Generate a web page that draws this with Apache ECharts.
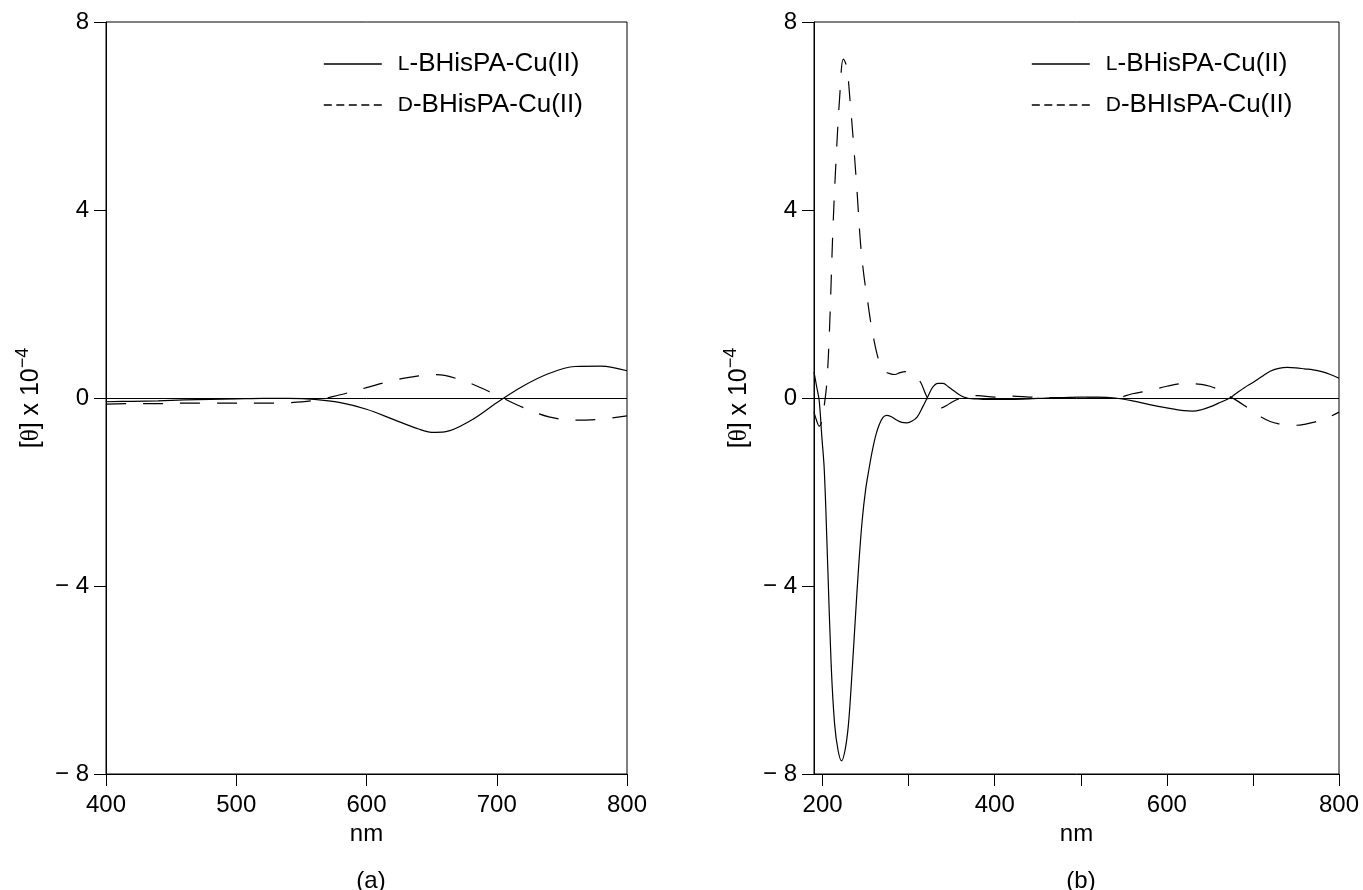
<!DOCTYPE html>
<html>
<head>
<meta charset="utf-8">
<script src="https://cdn.jsdelivr.net/npm/echarts@6/dist/echarts.min.js"></script>
<style>
html,body{margin:0;padding:0;background:#fff;}
#chart{width:1363px;height:890px;}
</style>
</head>
<body>
<div id="chart"></div>
<script>
// ---------- data ----------
const nameL = 'L-BHisPA-Cu(II)';
const nameDa = 'D-BHisPA-Cu(II)';
const nameDb = 'D-BHIsPA-Cu(II)';

// panel (a)
const nmA = [400,420,440,460,480,500,520,540,560,580,600,620,640,650,660,680,700,720,740,760,780,800];
const lA  = [-0.08,-0.07,-0.06,-0.04,-0.03,-0.02,-0.01,-0.01,-0.03,-0.10,-0.24,-0.45,-0.66,-0.73,-0.72,-0.48,-0.10,0.25,0.52,0.67,0.68,0.58];
const dA  = [-0.13,-0.12,-0.12,-0.11,-0.11,-0.11,-0.11,-0.10,-0.05,0.07,0.22,0.37,0.47,0.50,0.48,0.31,0.06,-0.20,-0.40,-0.47,-0.45,-0.38];

// panel (b)
const nmBL = [190,193,196,199,202,206,210,214,218,222,226,230,234,238,242,246,250,254,258,262,266,270,274,280,286,292,298,304,310,316,322,328,334,340,346,352,358,364,370,380,390,400,420,440,460,480,500,520,540,560,580,600,620,630,640,650,660,673,680,690,700,710,720,730,740,750,760,770,780,790,800];
const lB   = [0.55,0.25,-0.05,-0.8,-1.55,-3.6,-5.7,-6.95,-7.5,-7.72,-7.5,-6.95,-5.9,-4.7,-3.55,-2.6,-1.95,-1.5,-1.1,-0.78,-0.56,-0.42,-0.37,-0.40,-0.47,-0.52,-0.53,-0.49,-0.40,-0.20,0.02,0.23,0.31,0.31,0.24,0.16,0.08,0.02,-0.01,-0.02,-0.03,-0.03,-0.03,-0.02,0.0,0.01,0.02,0.02,0.0,-0.06,-0.14,-0.21,-0.27,-0.28,-0.25,-0.19,-0.11,0.0,0.09,0.22,0.33,0.45,0.57,0.63,0.65,0.64,0.62,0.60,0.56,0.50,0.42];
const nmBD = [190,193,196,199,202,205,208,212,216,220,224,228,232,236,240,244,248,252,256,260,264,268,272,278,284,290,296,302,308,314,320,326,332,338,344,350,358,366,380,400,420,440,460,480,500,520,540,560,580,600,620,640,650,660,670,680,690,700,710,720,730,740,750,760,770,780,790,800];
const dB   = [-0.30,-0.48,-0.60,-0.50,-0.15,0.35,1.45,3.6,5.2,6.45,7.21,7.05,6.3,5.4,4.4,3.3,2.6,2.1,1.6,1.2,0.88,0.68,0.57,0.52,0.50,0.54,0.56,0.53,0.46,0.33,0.07,-0.12,-0.21,-0.21,-0.16,-0.09,-0.02,0.02,0.05,0.02,0.04,0.02,0.01,0.01,0.0,0.0,0.0,0.09,0.16,0.25,0.31,0.29,0.25,0.18,0.07,-0.04,-0.16,-0.29,-0.41,-0.50,-0.55,-0.57,-0.58,-0.56,-0.52,-0.46,-0.39,-0.30];

const xTicksA = [400,500,600,700,800];
const xTicksB = [200,300,400,500,600,700,800];
const xLabelsB = [200,400,600,800];

// ---------- chart ----------
const FONT = "'Liberation Sans', Arial, Helvetica, sans-serif";
const pair = (xs, ys) => xs.map((x, i) => [x, ys[i]]);

function yAxisFor(gi) {
  return {
    type: 'value', gridIndex: gi, min: -8, max: 8, interval: 4,
    axisLine: { show: true, lineStyle: { color: '#000', width: 1 } },
    axisTick: { show: true, length: 12, lineStyle: { color: '#000', width: 1 } },
    axisLabel: {
      margin: 17, color: '#000', fontSize: 24, fontFamily: FONT,
      formatter: v => v < 0 ? '\u2212 ' + (-v) : String(v)
    },
    splitLine: { show: false },
    name: '{m|[}{t|\u03b8}{m|] x 10}{s|\u22124}',
    nameLocation: 'middle', nameRotate: 90, nameGap: 62,
    nameTextStyle: {
      color: '#000',
      rich: {
        m: { fontSize: 25, fontFamily: FONT, color: '#000', lineHeight: 30, verticalAlign: 'bottom' },
        t: { fontSize: 25, fontFamily: "'Liberation Serif', 'DejaVu Serif', serif", color: '#000', lineHeight: 30, verticalAlign: 'bottom' },
        s: { fontSize: 18, fontFamily: FONT, color: '#000', lineHeight: 18, verticalAlign: 'top' }
      }
    }
  };
}

function xAxisFor(gi, min, max, ticks, labels) {
  return {
    type: 'value', gridIndex: gi, min: min, max: max,
    axisLine: { show: true, onZero: false, lineStyle: { color: '#000', width: 1 } },
    axisTick: { show: true, length: 12, lineStyle: { color: '#000', width: 1 }, customValues: ticks },
    axisLabel: { margin: 19, color: '#000', fontSize: 24, fontFamily: FONT, customValues: labels },
    splitLine: { show: false },
    name: 'nm', nameLocation: 'middle', nameGap: 48,
    nameTextStyle: { color: '#000', fontSize: 24, fontFamily: FONT }
  };
}

function lineSeries(name, gi, data, dashed, zero) {
  const s = {
    name: name, type: 'line', xAxisIndex: gi, yAxisIndex: gi,
    data: data, symbol: 'none', showSymbol: false, smooth: 0.35,
    lineStyle: { color: '#000', width: 1.2, type: dashed ? [20, 17] : 'solid' },
    itemStyle: { color: '#000' },
    animation: false
  };
  if (zero) {
    s.markLine = {
      silent: true, symbol: 'none', animation: false,
      label: { show: false },
      lineStyle: { color: '#000', width: 1, type: 'solid' },
      data: [{ yAxis: 0 }]
    };
  }
  return s;
}

function legendFor(left, names) {
  return {
    left: left, top: 50, orient: 'vertical', padding: 0,
    itemWidth: 58, itemHeight: 14, itemGap: 13,
    selectedMode: false,
    itemStyle: { opacity: 0, borderWidth: 0 },
    data: [
      { name: names[0], lineStyle: { type: 'solid', width: 1.3, color: '#000' } },
      { name: names[1], lineStyle: { type: [8, 4.5], width: 1.6, color: '#000' } }
    ],
    formatter: n => '{sc|' + n.charAt(0) + '}' + n.slice(1),
    textStyle: {
      color: '#000', fontSize: 26, fontFamily: FONT, lineHeight: 28, padding: [0, 0, 0, 11],
      rich: { sc: { fontSize: 21, fontFamily: FONT, color: '#000', lineHeight: 28 } }
    }
  };
}

const chart = echarts.init(document.getElementById('chart'), null, { renderer: 'canvas' });
chart.setOption({
  backgroundColor: '#fff',
  animation: false,
  title: [
    { text: '(a)', left: 366, top: 864, textAlign: 'center', textStyle: { fontSize: 24, fontWeight: 'normal', fontFamily: FONT, color: '#000' } },
    { text: '(b)', left: 1076, top: 864, textAlign: 'center', textStyle: { fontSize: 24, fontWeight: 'normal', fontFamily: FONT, color: '#000' } }
  ],
  legend: [legendFor(323, [nameL, nameDa]), legendFor(1031, [nameL, nameDb])],
  grid: [
    { left: 106, top: 22, width: 521, height: 752, show: true, borderColor: '#000', borderWidth: 1, containLabel: false },
    { left: 814, top: 22, width: 525, height: 752, show: true, borderColor: '#000', borderWidth: 1, containLabel: false }
  ],
  xAxis: [xAxisFor(0, 400, 800, xTicksA, xTicksA), xAxisFor(1, 190, 800, xTicksB, xLabelsB)],
  yAxis: [yAxisFor(0), yAxisFor(1)],
  series: [
    lineSeries(nameL, 0, pair(nmA, lA), false, true),
    lineSeries(nameDa, 0, pair(nmA, dA), true, false),
    lineSeries(nameL, 1, pair(nmBL, lB), false, true),
    lineSeries(nameDb, 1, pair(nmBD, dB), true, false)
  ]
});
</script>
</body>
</html>
